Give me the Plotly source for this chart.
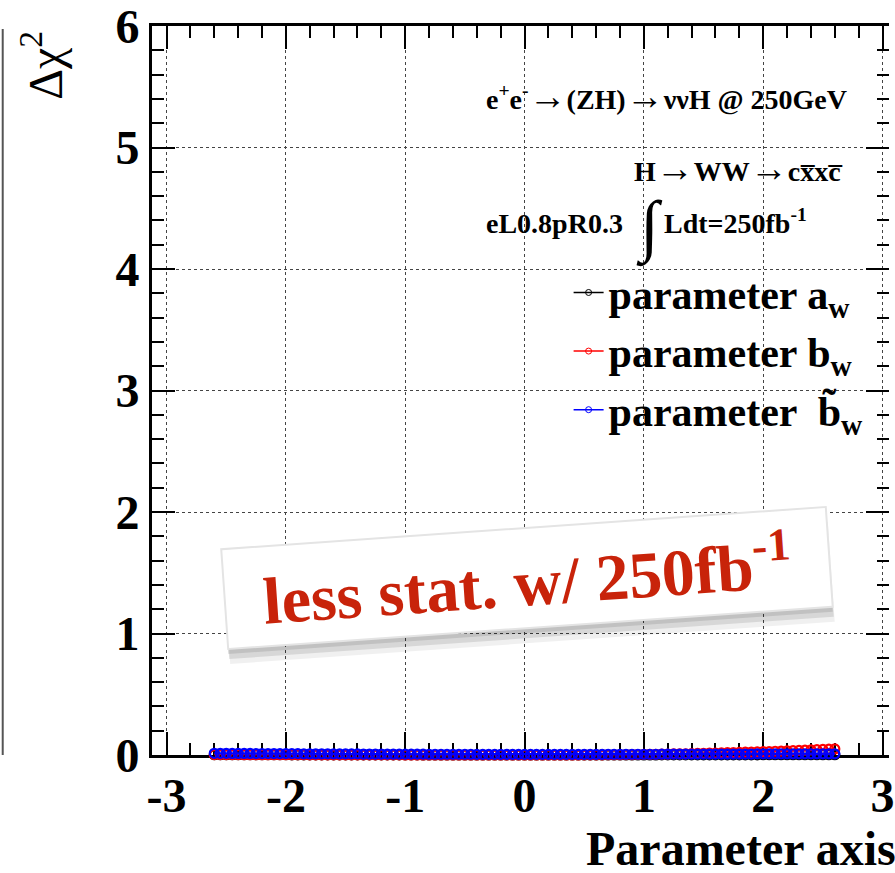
import plotly.graph_objects as go

# ---------------- data ----------------
x_vals = [-2.6, -2.55, -2.5, -2.45, -2.4, -2.35, -2.3, -2.25, -2.2, -2.15,
          -2.1, -2.05, -2.0, -1.95, -1.9, -1.85, -1.8, -1.75, -1.7, -1.65,
          -1.6, -1.55, -1.5, -1.45, -1.4, -1.35, -1.3, -1.25, -1.2, -1.15,
          -1.1, -1.05, -1.0, -0.95, -0.9, -0.85, -0.8, -0.75, -0.7, -0.65,
          -0.6, -0.55, -0.5, -0.45, -0.4, -0.35, -0.3, -0.25, -0.2, -0.15,
          -0.1, -0.05, 0.0, 0.05, 0.1, 0.15, 0.2, 0.25, 0.3, 0.35,
          0.4, 0.45, 0.5, 0.55, 0.6, 0.65, 0.7, 0.75, 0.8, 0.85,
          0.9, 0.95, 1.0, 1.05, 1.1, 1.15, 1.2, 1.25, 1.3, 1.35,
          1.4, 1.45, 1.5, 1.55, 1.6, 1.65, 1.7, 1.75, 1.8, 1.85,
          1.9, 1.95, 2.0, 2.05, 2.1, 2.15, 2.2, 2.25, 2.3, 2.35,
          2.4, 2.45, 2.5, 2.55, 2.6]

chi2_aw = [0.002, 0.002, 0.002, 0.002, 0.002, 0.002, 0.002, 0.002, 0.002, 0.002,
           0.002, 0.002, 0.002, 0.001, 0.001, 0.001, 0.001, 0.001, 0.001, 0.001,
           0.001, 0.001, 0.001, 0.001, 0.001, 0.001, 0.001, 0.001, 0.001, 0.001,
           0.001, 0.001, 0.001, 0.001, 0.001, 0.000, 0.000, 0.000, 0.000, 0.000,
           0.000, 0.000, 0.000, 0.000, 0.000, 0.000, 0.000, 0.000, 0.000, 0.000,
           0.000, 0.000, 0.000, 0.000, 0.000, 0.000, 0.000, 0.000, 0.000, 0.000,
           0.000, 0.000, 0.000, 0.000, 0.000, 0.000, 0.000, 0.000, 0.000, 0.000,
           0.000, 0.000, 0.000, 0.000, 0.000, 0.001, 0.001, 0.001, 0.001, 0.001,
           0.001, 0.001, 0.001, 0.001, 0.001, 0.001, 0.001, 0.001, 0.001, 0.001,
           0.001, 0.001, 0.002, 0.002, 0.002, 0.002, 0.002, 0.002, 0.002, 0.002,
           0.002, 0.002, 0.002, 0.002, 0.002]

chi2_bw = [0.003, 0.003, 0.003, 0.003, 0.003, 0.002, 0.002, 0.002, 0.002, 0.002,
           0.002, 0.002, 0.002, 0.002, 0.002, 0.002, 0.001, 0.001, 0.001, 0.001,
           0.001, 0.001, 0.001, 0.001, 0.001, 0.001, 0.001, 0.001, 0.001, 0.001,
           0.001, 0.001, 0.000, 0.000, 0.000, 0.000, 0.000, 0.000, 0.000, 0.000,
           0.000, 0.000, 0.000, 0.000, 0.000, 0.000, 0.000, 0.000, 0.000, 0.000,
           0.000, 0.000, 0.000, 0.000, 0.000, 0.000, 0.000, 0.000, 0.000, 0.000,
           0.000, 0.000, 0.001, 0.001, 0.001, 0.001, 0.002, 0.002, 0.002, 0.003,
           0.003, 0.004, 0.005, 0.005, 0.006, 0.007, 0.008, 0.009, 0.009, 0.010,
           0.011, 0.013, 0.014, 0.015, 0.016, 0.017, 0.019, 0.020, 0.021, 0.023,
           0.024, 0.026, 0.027, 0.029, 0.031, 0.032, 0.034, 0.036, 0.038, 0.040,
           0.042, 0.044, 0.046, 0.048, 0.050]

chi2_bw_tilde = [0.014, 0.014, 0.014, 0.013, 0.013, 0.013, 0.013, 0.012, 0.012, 0.012,
                 0.012, 0.011, 0.011, 0.011, 0.011, 0.010, 0.010, 0.010, 0.010, 0.010,
                 0.009, 0.009, 0.009, 0.009, 0.009, 0.008, 0.008, 0.008, 0.008, 0.008,
                 0.007, 0.007, 0.007, 0.007, 0.007, 0.007, 0.006, 0.006, 0.006, 0.006,
                 0.006, 0.006, 0.006, 0.006, 0.005, 0.005, 0.005, 0.005, 0.005, 0.005,
                 0.005, 0.005, 0.005, 0.005, 0.005, 0.005, 0.005, 0.005, 0.005, 0.005,
                 0.005, 0.005, 0.005, 0.005, 0.005, 0.005, 0.006, 0.006, 0.006, 0.006,
                 0.006, 0.006, 0.006, 0.006, 0.006, 0.007, 0.007, 0.007, 0.007, 0.007,
                 0.007, 0.007, 0.007, 0.008, 0.008, 0.008, 0.008, 0.008, 0.008, 0.008,
                 0.008, 0.009, 0.009, 0.009, 0.009, 0.009, 0.009, 0.009, 0.009, 0.010,
                 0.010, 0.010, 0.010, 0.010, 0.010]

series_names = ["parameter a<sub>w</sub>",
                "parameter b<sub>w</sub>",
                "parameter \u00a0b\u0303<sub>w</sub>"]
series_colors = ["#000000", "#ff0000", "#0000ff"]

x_tickvals = [-3, -2, -1, 0, 1, 2, 3]
x_ticktext = ["-3", "-2", "-1", "0", "1", "2", "3"]
y_tickvals = [0, 1, 2, 3, 4, 5, 6]
y_ticktext = ["0", "1", "2", "3", "4", "5", "6"]

# ---------------- layout helpers ----------------
W, H = 895, 873
L, R, T, B = 152, 0, 25, 118
PW, PH = W - L - R, H - T - B
FONT = "Liberation Serif"


def px(xp):
    return (xp - L) / PW


def py(yp):
    return (H - B - yp) / PH


fig = go.Figure()

all_series = [chi2_aw, chi2_bw, chi2_bw_tilde]
for vals, col in zip(all_series, series_colors):
    fig.add_trace(go.Scatter(
        x=x_vals, y=vals, mode="lines+markers", cliponaxis=False,
        line=dict(color=col, width=2),
        marker=dict(symbol="circle-open", size=9, color=col, line=dict(width=2.2, color=col)),
        showlegend=False, hoverinfo="skip"))

# legend entries (small markers, as in the reference)
for i, (name, col) in enumerate(zip(series_names, series_colors)):
    fig.add_trace(go.Scatter(
        x=[None], y=[None], mode="lines+markers", name=name,
        legendgroup=f"g{i}",
        line=dict(color=col, width=1.5),
        marker=dict(symbol="circle-open", size=6, color=col, line=dict(width=1, color=col))))

# invisible trace for right-hand tick axis
fig.add_trace(go.Scatter(x=[None], y=[None], yaxis="y2", showlegend=False, hoverinfo="skip"))

tickfont = dict(family=FONT, size=48, color="black", weight="bold")

fig.update_layout(
    width=W, height=H,
    margin=dict(l=L, r=R, t=T, b=B, pad=0),
    paper_bgcolor="white", plot_bgcolor="white",
    xaxis=dict(
        range=[-3.122, 3.054], tickmode="array", tickvals=x_tickvals, ticktext=x_ticktext,
        ticks="inside", ticklen=23, tickwidth=2, tickcolor="black",
        showline=True, linecolor="black", linewidth=3, mirror="ticks",
        showgrid=True, gridcolor="#444", griddash="dot", gridwidth=1,
        zeroline=False, tickfont=tickfont, ticklabelstandoff=-4,
        ticklabeloverflow="allow", layer="below traces",
        minor=dict(tickmode="linear", tick0=0, dtick=0.2, ticks="inside",
                   ticklen=12, tickwidth=1.5, tickcolor="black", showgrid=False),
    ),
    yaxis=dict(
        range=[0, 6], tickmode="array", tickvals=y_tickvals, ticktext=y_ticktext,
        ticks="inside", ticklen=23, tickwidth=2, tickcolor="black",
        showline=True, linecolor="black", linewidth=3, mirror=False,
        showgrid=True, gridcolor="#444", griddash="dot", gridwidth=1,
        zeroline=False, tickfont=tickfont, ticklabelstandoff=0,
        ticklabeloverflow="allow", layer="below traces",
        minor=dict(tickmode="linear", tick0=0, dtick=0.2, ticks="inside",
                   ticklen=12, tickwidth=1.5, tickcolor="black", showgrid=False),
    ),
    yaxis2=dict(
        range=[0, 6], overlaying="y", side="right", tickmode="array", tickvals=y_tickvals,
        ticks="inside", ticklen=23, tickwidth=2, tickcolor="black",
        showline=False, showgrid=False, zeroline=False, showticklabels=False,
        minor=dict(tickmode="linear", tick0=0, dtick=0.2, ticks="inside",
                   ticklen=12, tickwidth=1.5, tickcolor="black", showgrid=False),
    ),
    legend=dict(
        x=px(572), y=py(258), xanchor="left", yanchor="top",
        font=dict(family=FONT, size=42, color="black", weight="bold"),
        bgcolor="rgba(0,0,0,0)", itemwidth=30, tracegroupgap=1,
    ),
    showlegend=True,
)

ARW = '<span style="font-size:38px">→</span>'

ann = []
# y-axis title
ann.append(dict(text="Δχ<sup>2</sup>", x=px(41), y=py(64), xref="paper", yref="paper",
                xanchor="center", yanchor="middle", textangle=-90, showarrow=False,
                font=dict(family=FONT, size=48, color="black")))
# x-axis title
ann.append(dict(text="Parameter axis", x=px(904), y=py(849), xref="paper", yref="paper",
                xanchor="right", yanchor="middle", showarrow=False,
                font=dict(family=FONT, size=48, color="black", weight="bold")))
# process texts
tf = dict(family=FONT, size=28, color="black", weight="bold")
ann.append(dict(text=f"e<sup>+</sup>e<sup>-</sup>{ARW}(ZH){ARW}ννH @ 250GeV", x=px(487), y=py(95),
                xref="paper", yref="paper", xanchor="left", yanchor="middle",
                showarrow=False, font=tf))
ann.append(dict(text=f"H{ARW}WW{ARW}cx\u0305xc\u0305", x=px(636), y=py(167),
                xref="paper", yref="paper", xanchor="left", yanchor="middle",
                showarrow=False, font=tf))
ann.append(dict(text="eL0.8pR0.3", x=px(487), y=py(223),
                xref="paper", yref="paper", xanchor="left", yanchor="middle",
                showarrow=False, font=tf))
ann.append(dict(text="∫", x=px(654), y=py(226),
                xref="paper", yref="paper", xanchor="center", yanchor="middle",
                showarrow=False, font=dict(family=FONT, size=68, color="black", weight="bold")))
ann.append(dict(text="Ldt=250fb<sup>-1</sup>", x=px(666), y=py(221),
                xref="paper", yref="paper", xanchor="left", yanchor="middle",
                showarrow=False, font=tf))

# stamp with shadow
cx, cy = 530, 578
for dx, dy, col in [(2, 15, "rgba(0,0,0,0.06)"), (1, 10, "rgba(0,0,0,0.10)"), (0, 5, "rgba(0,0,0,0.10)")]:
    ann.append(dict(text="less stat. w/ 250fb<sup>-1</sup>", x=px(cx + dx), y=py(cy + dy),
                    xref="paper", yref="paper", xanchor="center", yanchor="middle",
                    textangle=-4, showarrow=False, width=596, height=90,
                    bgcolor=col, borderpad=4, borderwidth=2, bordercolor="rgba(0,0,0,0)",
                    font=dict(family=FONT, size=66, color="rgba(0,0,0,0)", weight="bold")))
ann.append(dict(text="less stat. w/ 250fb<sup>-1</sup>", x=px(cx), y=py(cy),
                xref="paper", yref="paper", xanchor="center", yanchor="middle",
                textangle=-4, showarrow=False, width=596, height=90,
                bgcolor="white", borderpad=4, borderwidth=2, bordercolor="#e4e4e4",
                font=dict(family=FONT, size=66, color="#c8230a", weight="bold")))

fig.update_layout(annotations=ann)

# neighbouring-panel frame edge at far left
fig.add_shape(type="line", xref="paper", yref="paper",
              x0=px(1.5), x1=px(1.5), y0=py(755), y1=py(28),
              line=dict(color="#555555", width=2))

fig.write_html("out.html")
